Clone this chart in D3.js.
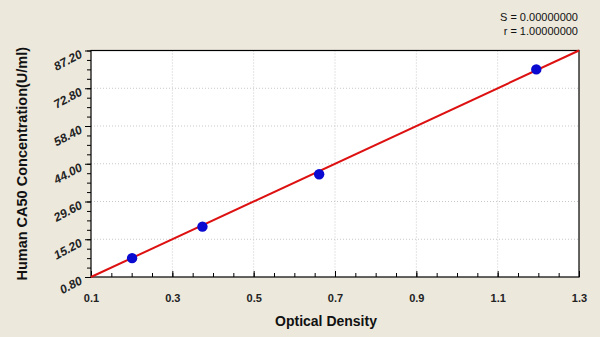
<!DOCTYPE html>
<html><head><meta charset="utf-8">
<script src="https://cdn.jsdelivr.net/npm/d3@7"></script>
<style>body{margin:0;background:#ece8dc;}svg{display:block;font-family:Arial,"Liberation Sans",sans-serif;}</style>
</head><body>
<svg id="c" width="600" height="337"></svg>
<script>
const odValues = [0.201, 0.374, 0.661, 1.195];
const concValues = [8, 20, 40, 80];
const xTicks = [0.1, 0.3, 0.5, 0.7, 0.9, 1.1, 1.3];
const yTicks = [0.80, 15.20, 29.60, 44.00, 58.40, 72.80, 87.20];
const fitLine = [[0.1, 0.8], [1.3, 87.2]];
const statLines = ["S = 0.00000000", "r = 1.00000000"];
const xTitle = "Optical Density";
const yTitle = "Human CA50 Concentration(U/ml)";

const svg = d3.select("#c");
const W = 600, H = 337;
const m = {l: 91, r: 21, t: 50.5, b: 60};
svg.append("rect").attr("width", W).attr("height", H).attr("fill", "#ece8dc");
const x = d3.scaleLinear().domain([0.1, 1.3]).range([m.l, W - m.r]);
const y = d3.scaleLinear().domain([0.8, 87.2]).range([H - m.b - 0, m.t]);
const pw = W - m.r - m.l, ph = (H - m.b) - m.t;

svg.append("rect").attr("x", m.l).attr("y", m.t).attr("width", pw).attr("height", ph).attr("fill", "#fff");

// grid
const g = svg.append("g");
g.selectAll(".gx").data(xTicks.slice(1, -1)).enter().append("line")
  .attr("x1", d => x(d)).attr("x2", d => x(d)).attr("y1", m.t).attr("y2", H - m.b)
  .attr("stroke", "#c8c8c8").attr("stroke-dasharray", "1,2");
g.selectAll(".gy").data(yTicks.slice(1, -1)).enter().append("line")
  .attr("x1", m.l).attr("x2", W - m.r).attr("y1", d => y(d)).attr("y2", d => y(d))
  .attr("stroke", "#c8c8c8").attr("stroke-dasharray", "1,2");

// minor ticks
const xMinor = d3.range(0, 25).map(i => 0.1 + i * 0.05);
const yMinor = d3.range(0, 25).map(i => 0.8 + i * 3.6);

const xAxis = d3.axisBottom(x).tickValues(xMinor).tickSize(-4).tickFormat("");
svg.append("g").attr("transform", `translate(0,${H - m.b})`).call(xAxis)
  .call(s => s.select(".domain").remove()).selectAll("line").attr("stroke", "#000");
const xAxisMaj = d3.axisBottom(x).tickValues(xTicks).tickSize(-6).tickPadding(17).tickFormat(d3.format(".1f"));
const xa = svg.append("g").attr("transform", `translate(0,${H - m.b})`).call(xAxisMaj);
xa.select(".domain").remove();
xa.selectAll("line").attr("stroke", "#000");
xa.selectAll("text").attr("font-size", 11).attr("font-weight", "bold").attr("fill", "#222");

const yAxis = d3.axisLeft(y).tickValues(yMinor).tickSize(4).tickFormat("");
svg.append("g").attr("transform", `translate(${m.l},0)`).call(yAxis)
  .call(s => s.select(".domain").remove()).selectAll("line").attr("stroke", "#000");
const yAxisMaj = d3.axisLeft(y).tickValues(yTicks).tickSize(6).tickFormat(d3.format(".2f"));
const ya = svg.append("g").attr("transform", `translate(${m.l},0)`).call(yAxisMaj);
ya.select(".domain").remove();
ya.selectAll("line").attr("stroke", "#000");
ya.selectAll("text").attr("font-size", 12).attr("font-weight", "bold").attr("font-style", "italic").attr("fill", "#222")
  .attr("x", -11).attr("dy", "0.55em").attr("text-anchor", "end")
  .attr("transform", "rotate(-28,-11,0)");

// frame
svg.append("rect").attr("x", m.l).attr("y", m.t).attr("width", pw).attr("height", ph)
  .attr("fill", "none").attr("stroke", "#000").attr("stroke-width", 1.2);

// fit line
svg.append("path").datum(fitLine)
  .attr("d", d3.line().x(d => x(d[0])).y(d => y(d[1])))
  .attr("stroke", "#dd1111").attr("stroke-width", 2).attr("fill", "none");

// points
svg.selectAll(".pt").data(odValues.map((v, i) => [v, concValues[i]])).enter().append("circle")
  .attr("cx", d => x(d[0])).attr("cy", d => y(d[1])).attr("r", 5.2)
  .attr("fill", "#0a0ad0");

// titles
svg.append("text").attr("x", 326).attr("y", 326).attr("text-anchor", "middle")
  .attr("font-size", 14).attr("font-weight", "bold").attr("fill", "#111").text(xTitle);
svg.append("text").attr("transform", `translate(27,${(m.t + H - m.b) / 2}) rotate(-90)`)
  .attr("text-anchor", "middle").attr("font-size", 14.5).attr("font-weight", "bold").attr("fill", "#111").text(yTitle);

svg.selectAll(".st").data(statLines).enter().append("text")
  .attr("x", 578).attr("y", (d, i) => 21 + i * 14).attr("text-anchor", "end")
  .attr("font-size", 11).attr("fill", "#111").text(d => d);
</script>
</body></html>
